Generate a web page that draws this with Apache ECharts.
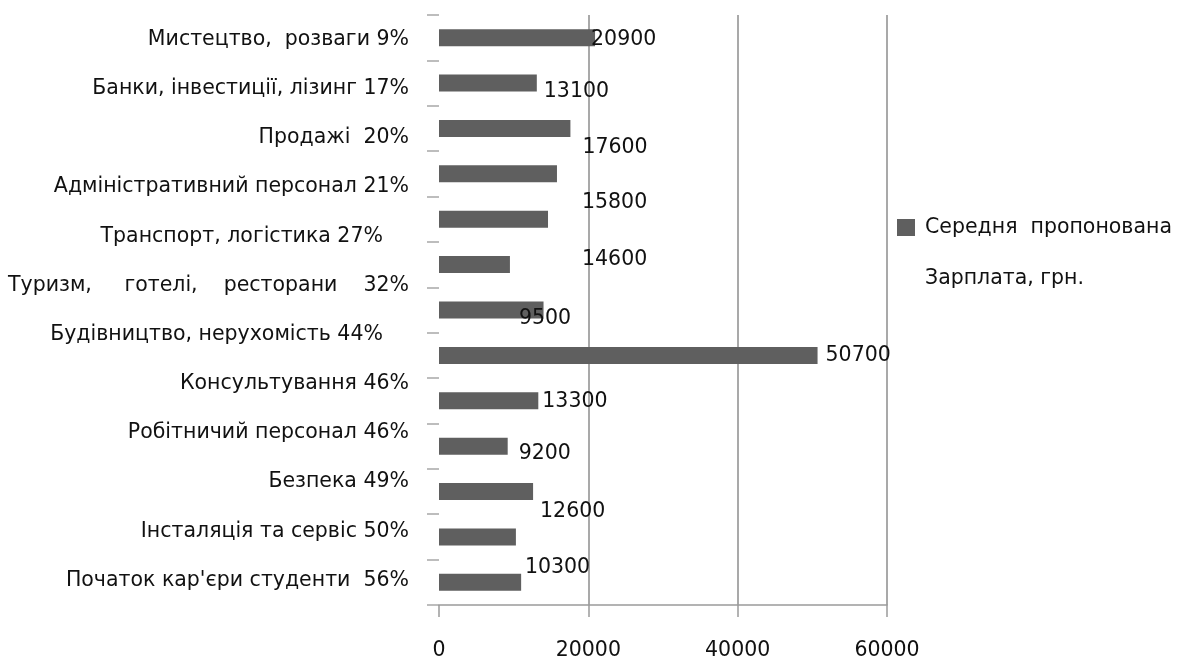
<!DOCTYPE html>
<html>
<head>
<meta charset="utf-8">
<script src="https://cdn.jsdelivr.net/npm/echarts@6/dist/echarts.min.js"></script>
<style>
  html, body { margin: 0; padding: 0; background: #ffffff; }
  #chart { width: 1187px; height: 659px; }
</style>
</head>
<body>
<div id="chart"></div>
<script>
// ---- data ----
const categories = [
  'Мистецтво,  розваги 9%',
  'Банки, інвестиції, лізинг 17%',
  'Продажі  20%',
  'Адміністративний персонал 21%',
  'Транспорт, логістика 27%    ',
  'Туризм,     готелі,    ресторани    32%',
  'Будівництво, нерухомість 44%    ',
  'Консультування 46%',
  'Робітничий персонал 46%',
  'Безпека 49%',
  'Інсталяція та сервіс 50%',
  "Початок кар'єри студенти  56%"
];
const barValues = [20900, 13100, 17600, 15800, 14600, 9500, 14000, 50700, 13300, 9200, 12600, 10300, 11000];
const valueLabels = ['20900', '13100', '17600', '15800', '14600', '9500', '', '50700', '13300', '9200', '12600', '10300', ''];
const xTickValues = [0, 20000, 40000, 60000];
const seriesName = 'Середня  пропонована\nЗарплата, грн.';

// ---- style (label placement relative to each bar end) ----
const labelShift = [[-4, 2], [7, 9], [12, 19], [25, 29], [34, 40], [9, 54], [0, 0], [8, 0], [4, 1], [11, 8], [7, 20], [9, 31], [0, 0]];

const FONT = 'DejaVu Sans';
const FS = 20.5;

const chart = echarts.init(document.getElementById('chart'), null, { renderer: 'canvas' });

const barData = barValues.map((v, i) => ({
  value: v,
  label: valueLabels[i]
    ? { show: true, offset: labelShift[i] }
    : { show: false }
}));

chart.setOption({
  backgroundColor: '#ffffff',
  animation: false,
  grid: { left: 439, right: 300, top: 15, bottom: 54, containLabel: false, outerBoundsMode: 'none' },
  legend: {
    data: [seriesName],
    left: 897,
    top: 151,
    padding: 0,
    icon: 'rect',
    itemWidth: 18,
    itemHeight: 17,
    formatter: (name) => '\u00A0\n' + name,
    textStyle: {
      fontFamily: FONT,
      fontSize: FS,
      color: '#111111',
      lineHeight: 51,
      padding: [0, 0, 0, 5]
    }
  },
  xAxis: {
    type: 'value',
    min: xTickValues[0],
    max: xTickValues[xTickValues.length - 1],
    interval: xTickValues[1] - xTickValues[0],
    axisLine: { show: true, lineStyle: { color: '#9a9a9a', width: 1.5 } },
    axisTick: { show: true, length: 12, lineStyle: { color: '#9a9a9a', width: 1.5 } },
    axisLabel: { margin: 35, fontFamily: FONT, fontSize: FS, color: '#111111', formatter: (v) => String(v) },
    splitLine: { show: true, showMinLine: false, lineStyle: { color: '#8c8c8c', width: 1.5 } }
  },
  yAxis: [
    {
      type: 'category',
      data: barValues.map((_, i) => String(i + 1)),
      inverse: true,
      axisLine: { show: false },
      axisTick: { show: true, length: 12, lineStyle: { color: '#a8a8a8', width: 1.5 } },
      axisLabel: { show: false },
      splitLine: { show: false }
    },
    {
      type: 'category',
      data: categories,
      inverse: true,
      position: 'left',
      axisLine: { show: false },
      axisTick: { show: false },
      splitLine: { show: false },
      axisLabel: { margin: 30, fontFamily: FONT, fontSize: FS, color: '#111111', interval: 0 }
    }
  ],
  series: [
    {
      name: seriesName,
      type: 'bar',
      yAxisIndex: 0,
      data: barData,
      barWidth: 17,
      itemStyle: { color: '#5f5f5f' },
      label: {
        show: true,
        position: 'right',
        distance: 0,
        fontFamily: FONT,
        fontSize: FS,
        color: '#111111',
        formatter: (p) => valueLabels[p.dataIndex]
      }
    }
  ]
});
</script>
</body>
</html>
